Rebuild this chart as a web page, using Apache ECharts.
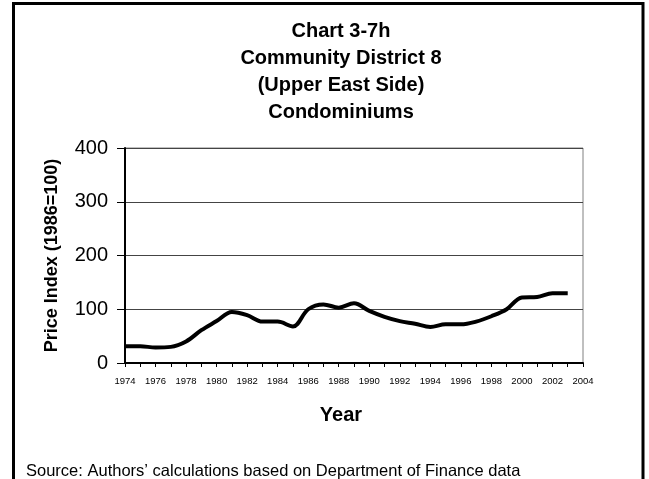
<!DOCTYPE html>
<html>
<head>
<meta charset="utf-8">
<script src="https://cdn.jsdelivr.net/npm/echarts@6/dist/echarts.min.js"></script>
<style>
html,body{margin:0;padding:0;background:#fff;}
#chart{width:649px;height:479px;}
</style>
</head>
<body>
<div id="chart"></div>
<script>
var years = [1974,1975,1976,1977,1978,1979,1980,1981,1982,1983,1984,1985,1986,1987,1988,1989,1990,1991,1992,1993,1994,1995,1996,1997,1998,1999,2000,2001,2002,2003];
var priceIndex = [31,31,29,30,40,61,78,95,89,77,77,68,100,109,103,111,97,86,78,73,67,72,72,77,87,100,122,123,130,130];
var titleLines = ["Chart 3-7h","Community District 8","(Upper East Side)","Condominiums"];
var xAxisTitle = "Year";
var yAxisTitle = "Price Index (1986=100)";
var sourceNote = "Source: Authors\u2019 calculations based on Department of Finance data";

var seriesData = years.map(function(y, i){ return [y, priceIndex[i]]; });

var chart = echarts.init(document.getElementById('chart'), null, {renderer:'canvas'});
chart.setOption({
  animation: false,
  backgroundColor: '#ffffff',
  title: [
    {
      text: titleLines.join('\n'),
      left: 336, top: 13, textAlign: 'center',
      textStyle: {fontFamily: 'Liberation Sans', fontWeight: 'bold', fontSize: 20, lineHeight: 27, color: '#000'}
    },
    {
      text: xAxisTitle,
      left: 336, top: 400, textAlign: 'center',
      textStyle: {fontFamily: 'Liberation Sans', fontWeight: 'bold', fontSize: 20, color: '#000'}
    },
    {
      text: sourceNote,
      left: 21, top: 458,
      textStyle: {fontFamily: 'Liberation Sans', fontWeight: 'normal', fontSize: 16.5, color: '#000'}
    }
  ],
  graphic: [
    {type: 'rect', shape: {x: 13.5, y: 3.5, width: 629.5, height: 500}, style: {fill: 'none', stroke: '#000', lineWidth: 3}, silent: true}
  ],
  grid: {left: 125, top: 148, width: 458, height: 215, show: true, borderColor: '#808080', borderWidth: 1, containLabel: false},
  xAxis: {
    type: 'value', min: 1974, max: 2004, interval: 2,
    axisLine: {show: true, lineStyle: {color: '#000', width: 2}},
    axisTick: {show: true, inside: false, length: 4, lineStyle: {color: '#000', width: 1}},
    minorTick: {show: true, splitNumber: 2, length: 4, lineStyle: {color: '#000', width: 1}},
    splitLine: {show: false},
    axisLabel: {margin: 13, fontFamily: 'Liberation Sans', fontSize: 9.5, color: '#000', formatter: function(v){ return String(v); }}
  },
  yAxis: {
    type: 'value', min: 0, max: 400, interval: 100,
    name: yAxisTitle, nameLocation: 'middle', nameGap: 64, nameRotate: 90,
    nameTextStyle: {fontFamily: 'Liberation Sans', fontWeight: 'bold', fontSize: 18, color: '#000'},
    axisLine: {show: true, lineStyle: {color: '#000', width: 2}},
    axisTick: {show: true, inside: false, length: 8, lineStyle: {color: '#000', width: 1}},
    splitLine: {show: true, lineStyle: {color: '#444', width: 1}},
    axisLabel: {margin: 17, fontFamily: 'Liberation Sans', fontSize: 20, color: '#000'}
  },
  series: [{
    type: 'line', data: seriesData, smooth: 0.35, showSymbol: false,
    lineStyle: {color: '#000', width: 4}
  }]
});
</script>
</body>
</html>
